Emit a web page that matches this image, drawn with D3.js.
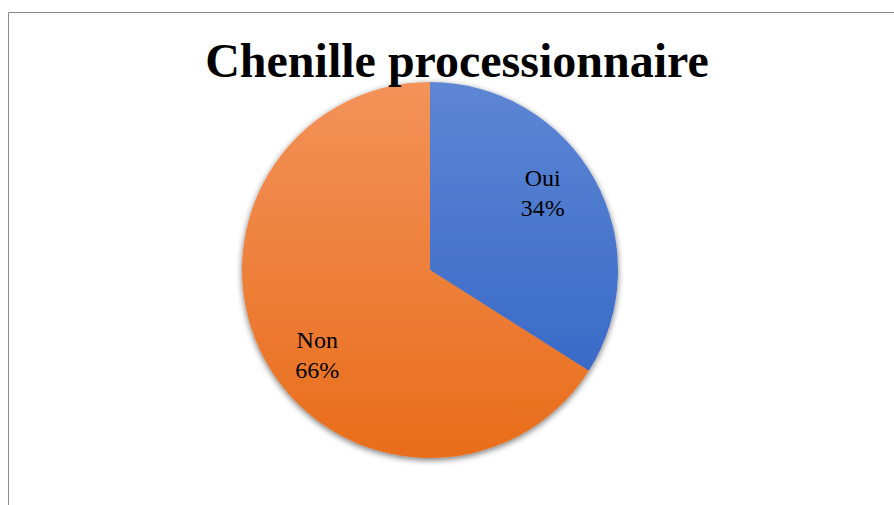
<!DOCTYPE html>
<html>
<head>
<meta charset="utf-8">
<script src="https://cdn.jsdelivr.net/npm/d3@7"></script>
<style>
  html, body { margin: 0; padding: 0; background: #fff; }
  svg { display: block; }
</style>
</head>
<body>
<script>
const categories = ["Oui", "Non"];
const values = [34, 66];
const percentLabels = ["34%", "66%"];
const title = "Chenille processionnaire";

const W = 894, H = 505;
const cx = 430, cy = 270, R = 188;
const gradStops = [["#5d86d4", "#2f62c3"], ["#f3925a", "#e86d1a"]];
const labelOffsets = [[-10, -10], [10, 18]];

const svg = d3.select("body").append("svg").attr("width", W).attr("height", H);
const defs = svg.append("defs");

const f = defs.append("filter").attr("id", "shadow")
  .attr("x", "-20%").attr("y", "-20%").attr("width", "140%").attr("height", "140%");
f.append("feGaussianBlur").attr("in", "SourceAlpha").attr("stdDeviation", 3).attr("result", "b");
f.append("feOffset").attr("in", "b").attr("dx", 0).attr("dy", 2).attr("result", "o");
f.append("feComponentTransfer").attr("in", "o").attr("result", "s")
  .append("feFuncA").attr("type", "linear").attr("slope", 0.55);
const m = f.append("feMerge");
m.append("feMergeNode").attr("in", "s");
m.append("feMergeNode").attr("in", "SourceGraphic");

gradStops.forEach((c, i) => {
  const g = defs.append("linearGradient").attr("id", "g" + i)
    .attr("gradientUnits", "userSpaceOnUse")
    .attr("x1", 0).attr("y1", cy - R).attr("x2", 0).attr("y2", cy + R);
  g.append("stop").attr("offset", "0%").attr("stop-color", c[0]);
  g.append("stop").attr("offset", "100%").attr("stop-color", c[1]);
});

// frame
svg.append("path")
  .attr("d", `M8.5,${H} L8.5,12.5 L${W},12.5`)
  .attr("fill", "none").attr("stroke", "#8c8c8c").attr("stroke-width", 1);

const pie = d3.pie().sort(null).value(d => d)(values);
const arc = d3.arc().innerRadius(0).outerRadius(R);
const labelArc = d3.arc().innerRadius(R * 0.5).outerRadius(R * 0.99);

const g = svg.append("g").attr("transform", `translate(${cx},${cy})`);
const slices = g.append("g").attr("filter", "url(#shadow)");
slices.selectAll("path").data(pie).join("path")
  .attr("d", arc)
  .attr("transform", `translate(0,0)`)
  .attr("fill", (d, i) => `url(#g${i})`)
  .each(function(d, i) {
    // gradient in user space relative to group: shift gradient coords
  });
// fix gradient coords since paths are inside translated group
defs.selectAll("linearGradient").attr("y1", -R).attr("y2", R);

const labels = g.selectAll("text.lbl").data(pie).join("text")
  .attr("class", "lbl")
  .attr("transform", (d, i) => {
    const c = labelArc.centroid(d);
    return `translate(${c[0] + labelOffsets[i][0]},${c[1] + labelOffsets[i][1]})`;
  })
  .attr("text-anchor", "middle")
  .attr("font-family", "'Liberation Serif', 'Times New Roman', serif")
  .attr("font-size", 24)
  .attr("fill", "#000");
labels.append("tspan").attr("x", 0).attr("y", -7).text((d, i) => categories[i]);
labels.append("tspan").attr("x", 0).attr("y", 23).text((d, i) => percentLabels[i]);

svg.append("text")
  .attr("x", 457).attr("y", 77)
  .attr("text-anchor", "middle")
  .attr("font-family", "'Liberation Serif', 'Times New Roman', serif")
  .attr("font-weight", "bold")
  .attr("font-size", 48)
  .attr("fill", "#000")
  .text(title);
</script>
</body>
</html>
